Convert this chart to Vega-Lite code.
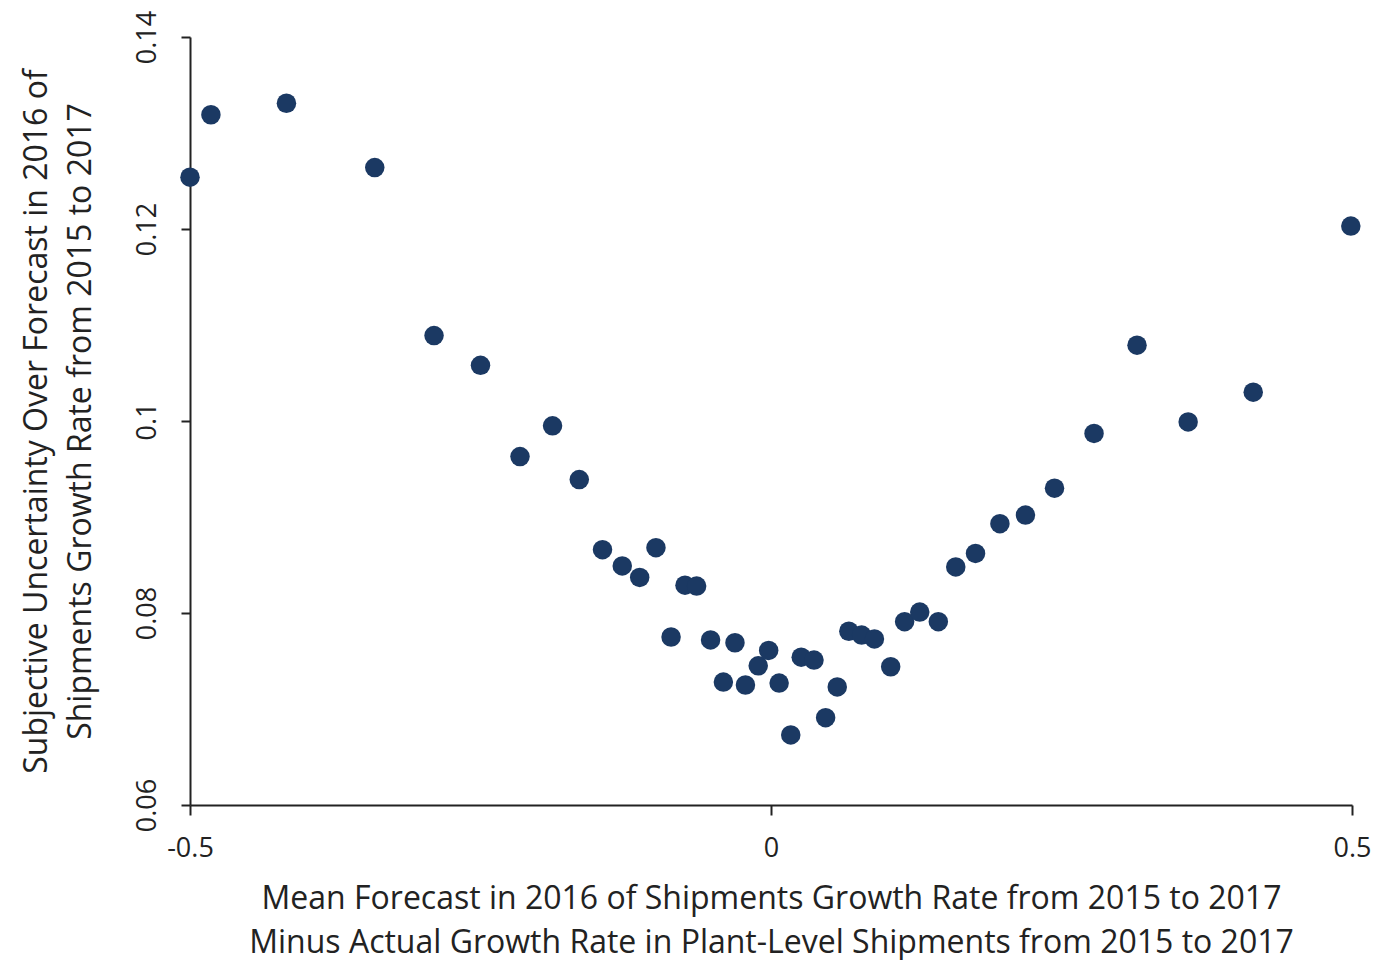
{
  "$schema": "https://vega.github.io/schema/vega-lite/v6.json",
  "width": 1162,
  "height": 768,
  "autosize": "none",
  "padding": {"left": 190, "top": 37, "right": 27, "bottom": 155},
  "background": "white",
  "config": {"view": {"stroke": null}, "font": "Open Sans"},
  "data": {"values": [
    {"x": -0.500, "y": 0.1254},
    {"x": -0.482, "y": 0.1319},
    {"x": -0.417, "y": 0.1331},
    {"x": -0.341, "y": 0.1264},
    {"x": -0.290, "y": 0.1089},
    {"x": -0.250, "y": 0.1058},
    {"x": -0.216, "y": 0.0963},
    {"x": -0.188, "y": 0.0995},
    {"x": -0.165, "y": 0.0939},
    {"x": -0.145, "y": 0.0866},
    {"x": -0.128, "y": 0.0849},
    {"x": -0.113, "y": 0.0837},
    {"x": -0.099, "y": 0.0868},
    {"x": -0.074, "y": 0.0829},
    {"x": -0.064, "y": 0.0828},
    {"x": -0.086, "y": 0.0775},
    {"x": -0.052, "y": 0.0772},
    {"x": -0.031, "y": 0.0769},
    {"x": -0.041, "y": 0.0728},
    {"x": -0.022, "y": 0.0725},
    {"x": -0.011, "y": 0.0745},
    {"x": -0.002, "y": 0.0761},
    {"x": 0.007, "y": 0.0727},
    {"x": 0.017, "y": 0.0673},
    {"x": 0.026, "y": 0.0754},
    {"x": 0.037, "y": 0.0751},
    {"x": 0.047, "y": 0.0691},
    {"x": 0.057, "y": 0.0723},
    {"x": 0.067, "y": 0.0781},
    {"x": 0.078, "y": 0.0777},
    {"x": 0.089, "y": 0.0773},
    {"x": 0.103, "y": 0.0744},
    {"x": 0.115, "y": 0.0791},
    {"x": 0.128, "y": 0.0801},
    {"x": 0.144, "y": 0.0791},
    {"x": 0.159, "y": 0.0848},
    {"x": 0.176, "y": 0.0862},
    {"x": 0.197, "y": 0.0893},
    {"x": 0.219, "y": 0.0902},
    {"x": 0.244, "y": 0.0930},
    {"x": 0.278, "y": 0.0987},
    {"x": 0.315, "y": 0.1079},
    {"x": 0.359, "y": 0.0999},
    {"x": 0.415, "y": 0.1030},
    {"x": 0.499, "y": 0.1203}
  ]},
  "mark": {"type": "circle", "size": 380, "color": "#1b3963", "opacity": 1},
  "encoding": {
    "x": {
      "field": "x", "type": "quantitative",
      "scale": {"domain": [-0.5, 0.5], "nice": false, "zero": false},
      "axis": {
        "values": [-0.5, 0, 0.5],
        "labelExpr": "datum.value < 0 ? '-' + format(-datum.value, '.1~f') : format(datum.value, '.1~f')",
        "grid": false,
        "domainColor": "#222", "domainWidth": 2,
        "tickColor": "#222", "tickWidth": 2, "tickSize": 10,
        "labelFont": "Open Sans", "labelFontSize": 27, "labelColor": "#222",
        "labelPadding": 20, "labelFlush": false,
        "title": ["Mean Forecast in 2016 of Shipments Growth Rate from 2015 to 2017", "Minus Actual Growth Rate in Plant-Level Shipments from 2015 to 2017"],
        "titleFont": "Open Sans", "titleFontSize": 32, "titleFontWeight": "normal", "titleColor": "#222",
        "titleLineHeight": 44, "titlePadding": 22
      }
    },
    "y": {
      "field": "y", "type": "quantitative",
      "scale": {"domain": [0.06, 0.14], "nice": false, "zero": false},
      "axis": {
        "values": [0.06, 0.08, 0.1, 0.12, 0.14],
        "format": ".2~f",
        "grid": false,
        "domainColor": "#222", "domainWidth": 2,
        "tickColor": "#222", "tickWidth": 2, "tickSize": 9,
        "labelFont": "Open Sans", "labelFontSize": 27, "labelColor": "#222",
        "labelAngle": -90, "labelAlign": "center", "labelBaseline": "alphabetic",
        "labelPadding": 26, "labelFlush": false,
        "title": ["Subjective Uncertainty Over Forecast in 2016 of", "Shipments Growth Rate from 2015 to 2017"],
        "titleFont": "Open Sans", "titleFontSize": 32, "titleFontWeight": "normal", "titleColor": "#222",
        "titleLineHeight": 44, "titlePadding": 36
      }
    }
  }
}
